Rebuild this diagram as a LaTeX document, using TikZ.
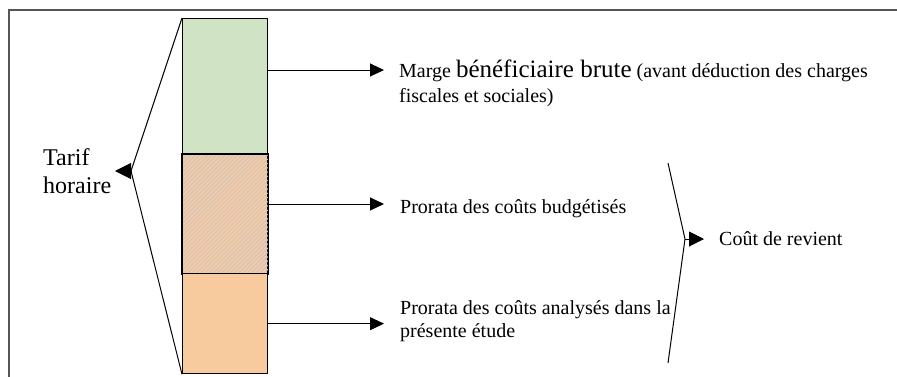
\documentclass[tikz,border=0pt]{standalone}
\usepackage{fontspec}
\setmainfont{Liberation Serif}
\newfontfamily\bigrm{Liberation Serif}
\usetikzlibrary{arrows.meta,patterns.meta}
\definecolor{segGreen}{RGB}{208,227,196}
\definecolor{segOrange}{RGB}{248,203,158}
\definecolor{hatchGray}{RGB}{196,196,206}
\definecolor{frameGray}{RGB}{85,85,85}
\tikzset{
  seg/.style={draw=black, line width=1.3pt, inner sep=0pt, minimum width=85pt, anchor=north west},
  conn/.style={line width=1pt, -{Triangle[length=14pt,width=13pt]}},
  lbl/.style={font=\rmfamily\fontsize{20}{23}\selectfont, anchor=base west, inner sep=0pt, align=left},
  brace/.style={line width=1pt},
}
\begin{document}
\begin{tikzpicture}[x=1pt,y=-1pt]
\useasboundingbox (0,0) rectangle (897,376);
\draw[frameGray, line width=1.6pt] (9,378) -- (9,10) -- (899,10);

% bar segments
\node[seg, fill=segGreen, minimum height=136pt] (g) at (182,18) {};
\node[seg, fill=segOrange, minimum height=119pt] (h) at (182,154) {};
\fill[pattern={Lines[angle=45,distance=3pt,line width=0.8pt]}, pattern color=hatchGray] (h.north west) rectangle (h.south east);
\draw[line width=1.3pt] (h.north west) rectangle (h.south east);
\node[seg, fill=segOrange, minimum height=100pt] (o) at (182,273) {};

% connectors from the bar
\coordinate (am) at (384,70);
\coordinate (ab) at (384,204);
\draw[conn] (g.east |- am) -- (am);
\draw[conn] (h.east |- ab) -- (ab);
\draw[conn] (o.east) -- (o.east -| am);

% labels (base anchor = baseline of the last line)
\node[lbl] (m) at (399,102) {Marge {\bigrm\fontsize{25}{28}\selectfont bénéficiaire brute} (avant déduction des charges\\[1.5pt]fiscales et sociales)};
\node[lbl] (b) at (400,213) {Prorata des coûts budgétisés};
\node[lbl] (a) at (400,337) {Prorata des coûts analysés dans la\\présente étude};

% right brace
\coordinate (bt) at (668,163);
\coordinate (bv) at (685,239);
\coordinate (bb) at (668,363);
\draw[brace] (bt) -- (bv) -- (bb);
\node[lbl] (c) at (719,245) {Coût de revient};
\coordinate (ca) at (704,239);
\draw[conn, -{Triangle[length=15pt,width=15pt]}] (bv) -- (ca);

% left brace
\coordinate (tv) at (131,171);
\draw[brace] (g.north west) -- (tv) -- (o.south west);
\node[lbl, font=\bigrm\fontsize{24}{27.5}\selectfont] (t) at (43,193) {Tarif\\horaire};
\coordinate (ta) at (115,171);
\draw[conn, -{Triangle[length=16pt,width=16pt]}] (tv) -- (ta);
\end{tikzpicture}
\end{document}
